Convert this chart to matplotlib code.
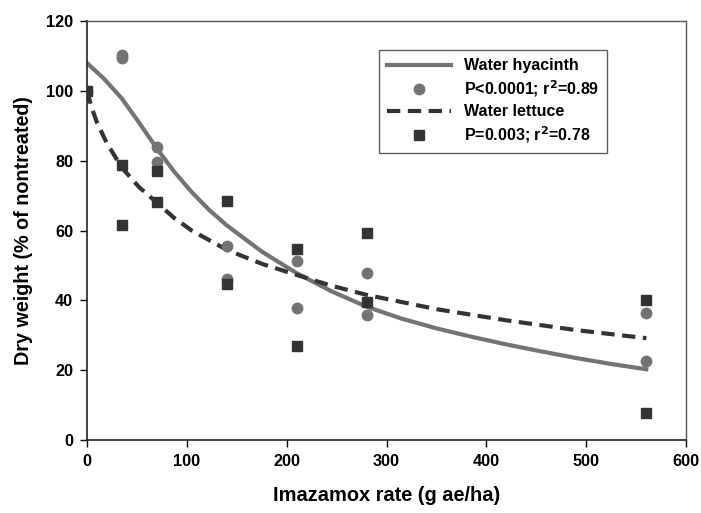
import matplotlib
matplotlib.use("Agg")
import matplotlib.pyplot as plt
from matplotlib.lines import Line2D

plt.rcParams["font.family"] = ["Liberation Sans", "DejaVu Sans"]
plt.rcParams["font.weight"] = "bold"

# observed data points
hyacinth_rate = [0, 35, 35, 70, 70, 140, 140, 210, 210, 280, 280, 560, 560]
hyacinth_dw = [100, 110.3, 109.3, 84, 79.5, 55.5, 46, 51.2, 37.8, 47.8, 35.7, 36.3, 22.8]

lettuce_rate = [0, 35, 35, 70, 70, 140, 140, 210, 210, 280, 280, 560, 560]
lettuce_dw = [100, 78.8, 61.5, 77.2, 68.2, 68.6, 44.8, 54.8, 27.1, 59.2, 39.5, 40.2, 7.7]

# fitted curves
hyacinth_fit_x = [0, 17, 35, 52, 70, 87, 105, 122, 140, 175, 210, 245, 280,
                  315, 350, 385, 420, 455, 490, 525, 560]
hyacinth_fit_y = [108, 103.5, 97.8, 91, 83.5, 77, 71, 66, 61.5, 54, 47.8, 42.6, 38.2,
                  34.8, 32, 29.6, 27.4, 25.4, 23.5, 21.8, 20.3]

lettuce_fit_x = [0, 5, 10, 20, 35, 52, 70, 87, 105, 140, 175, 210, 245, 280,
                 350, 420, 490, 560]
lettuce_fit_y = [100, 95, 91, 85, 78, 72.5, 68, 63.7, 60, 54.5, 50.5, 47.3, 44.2, 41.6,
                 37.5, 34.3, 31.5, 29.2]

GRAY = "#737373"
DARK = "#333333"
DASH = (0, (3.2, 1.8))

fig = plt.figure(figsize=(7.01, 5.13), dpi=100)
ax = fig.add_axes([0.124, 0.142, 0.855, 0.817])

ax.plot(hyacinth_fit_x, hyacinth_fit_y, color=GRAY, lw=3, zorder=2)
ax.plot(lettuce_fit_x, lettuce_fit_y, color=DARK, lw=3, ls=DASH, zorder=2)
ax.plot(hyacinth_rate, hyacinth_dw, "o", color=GRAY, ms=7.5, mec=GRAY, ls="None", zorder=3)
ax.plot(lettuce_rate, lettuce_dw, "s", color=DARK, ms=7.5, mec=DARK, ls="None", zorder=4)

ax.set_xlim(0, 600)
ax.set_ylim(0, 120)
ax.set_xticks(range(0, 601, 100))
ax.set_yticks(range(0, 121, 20))
ax.tick_params(direction="out", length=5, width=1, labelsize=11.7, pad=5)
for lab in ax.get_xticklabels() + ax.get_yticklabels():
    lab.set_fontweight("bold")

for side in ["left", "bottom"]:
    ax.spines[side].set_color("#222222")
    ax.spines[side].set_linewidth(1.2)
for side in ["top", "right"]:
    ax.spines[side].set_color("#555555")
    ax.spines[side].set_linewidth(1.0)

ax.set_xlabel("Imazamox rate (g ae/ha)", fontsize=14.4, fontweight="bold", labelpad=12)
ax.set_ylabel("Dry weight (% of nontreated)", fontsize=14.2, fontweight="bold", labelpad=9)

handles = [
    Line2D([], [], color=GRAY, lw=3),
    Line2D([], [], color=GRAY, marker="o", ls="None", ms=7.5),
    Line2D([], [], color=DARK, lw=3, ls=DASH),
    Line2D([], [], color=DARK, marker="s", ls="None", ms=7.5),
]
labels = [
    "Water hyacinth",
    r"P<0.0001; r$^\mathbf{2}$=0.89",
    "Water lettuce",
    r"P=0.003; r$^\mathbf{2}$=0.78",
]
leg = ax.legend(
    handles, labels,
    loc="upper right",
    bbox_to_anchor=(0.868, 0.93),
    borderaxespad=0,
    frameon=True,
    fancybox=False,
    edgecolor="#333333",
    handlelength=4.0,
    handletextpad=0.8,
    borderpad=0.5,
    labelspacing=0.32,
    prop={"weight": "bold", "size": 11.5},
)
leg.get_frame().set_linewidth(1.0)

fig.savefig("out.png", dpi=100)
